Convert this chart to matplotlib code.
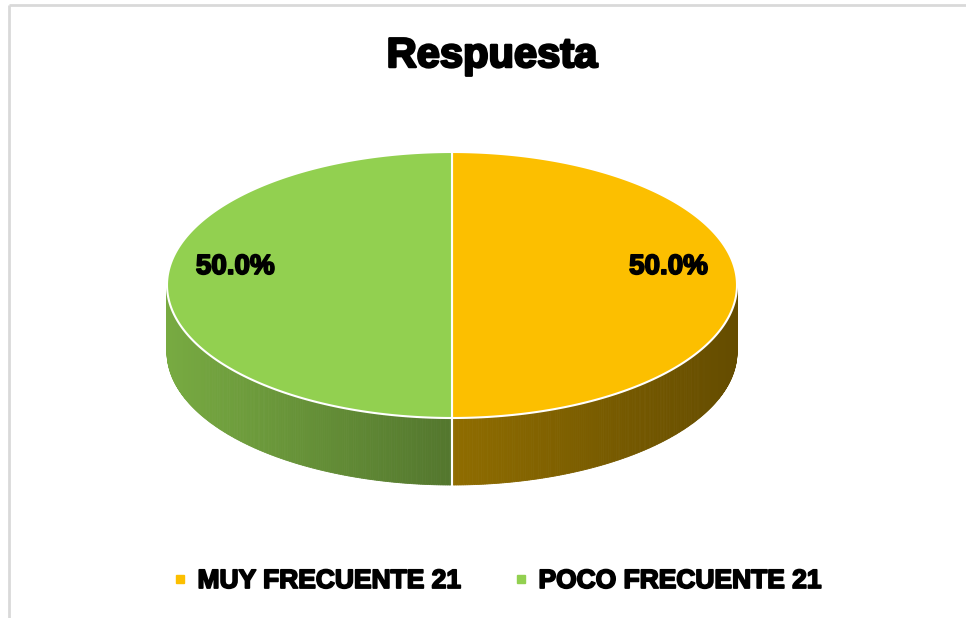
import numpy as np
import matplotlib
matplotlib.use('Agg')
from matplotlib import pyplot as plt
from matplotlib.patches import Polygon
from matplotlib.lines import Line2D
from matplotlib.colors import to_rgb
import matplotlib.patheffects as pe

# chart data
title = 'Respuesta'
categories = ['MUY FRECUENTE 21', 'POCO FRECUENTE 21']
values = [21, 21]
colors = ['#fcbf00', '#92d050']

# layout in pixels (y down)
W, H = 966, 618
CX, CY = 452, 285
A, B = 285, 133
DEPTH = 67
FONT = ['Liberation Sans', 'DejaVu Sans']
# heavier look, like the Excel export
HEAVY = [pe.withStroke(linewidth=1.3, foreground='black')]

fig = plt.figure(figsize=(W / 100, H / 100), dpi=100)
ax = fig.add_axes([0, 0, 1, 1])
ax.set_xlim(0, W)
ax.set_ylim(H, 0)
ax.axis('off')

# chart border (only top and left edges are inside the picture)
ax.plot([9, 9], [5, H], color='#d9d9d9', lw=2, solid_capstyle='butt')
ax.plot([9, W], [5, 5], color='#d9d9d9', lw=2, solid_capstyle='butt')

def pt(t):
    r = np.radians(t)
    return CX + A * np.cos(r), CY - B * np.sin(r)

def shade(x):
    return np.interp(x, [CX - A, CX, CX + A], [0.82, 0.57, 0.40])

fracs = np.array(values, dtype=float) / sum(values)
start = 90.0
slices = []
for f in fracs:
    end = start - 360 * f
    slices.append((start, end))
    start = end

# side walls
for (t0, t1), col in zip(slices, colors):
    base = np.array(to_rgb(col))
    ts = np.linspace(t1, t0, 400)
    vis = np.sin(np.radians(ts)) <= 1e-9
    ts = ts[vis]
    for a0, a1 in zip(ts[:-1], ts[1:]):
        x0, y0 = pt(a0)
        x1, y1 = pt(a1)
        c = np.clip(base * shade((x0 + x1) / 2), 0, 1)
        ax.add_patch(Polygon([(x0, y0), (x1, y1), (x1, y1 + DEPTH), (x0, y0 + DEPTH)],
                             closed=True, facecolor=c, edgecolor=c, lw=0.6))
    # white separators on the side at slice edges in front
    for t in (t0, t1):
        if np.sin(np.radians(t)) < -1e-9:
            x, y = pt(t)
            ax.plot([x, x], [y, y + DEPTH], color='white', lw=1.5)

# top faces
for (t0, t1), col in zip(slices, colors):
    ts = np.linspace(t0, t1, 300)
    xs, ys = pt(ts)
    verts = [(CX, CY)] + list(zip(xs, ys))
    ax.add_patch(Polygon(verts, closed=True, facecolor=col, edgecolor='white', lw=1.5))

# data labels
for (t0, t1), v in zip(slices, values):
    mid = (t0 + t1) / 2
    x, y = CX + 0.76 * A * np.cos(np.radians(mid)), CY - 0.76 * B * np.sin(np.radians(mid)) - 18
    ax.text(x, y, f'{100 * v / sum(values):.1f}%', ha='center', va='center',
            fontsize=20, fontweight='bold', family=FONT, color='black', path_effects=HEAVY)

# title
ax.text(492, 56, title, ha='center', va='center', fontsize=30,
        fontweight='bold', family=FONT, color='black',
        path_effects=[pe.withStroke(linewidth=1.8, foreground='black')])

# legend
handles = [Line2D([], [], marker='s', linestyle='', color=c, markersize=6) for c in colors]
leg = fig.legend(handles, categories, loc='center', bbox_to_anchor=(497 / W, 1 - 581 / H),
                 ncol=2, frameon=False, handlelength=0.6, handletextpad=0.35,
                 columnspacing=2.0, prop={'family': FONT, 'weight': 'bold', 'size': 19})
for t in leg.get_texts():
    t.set_path_effects(HEAVY)

fig.savefig('out.png', dpi=100)
